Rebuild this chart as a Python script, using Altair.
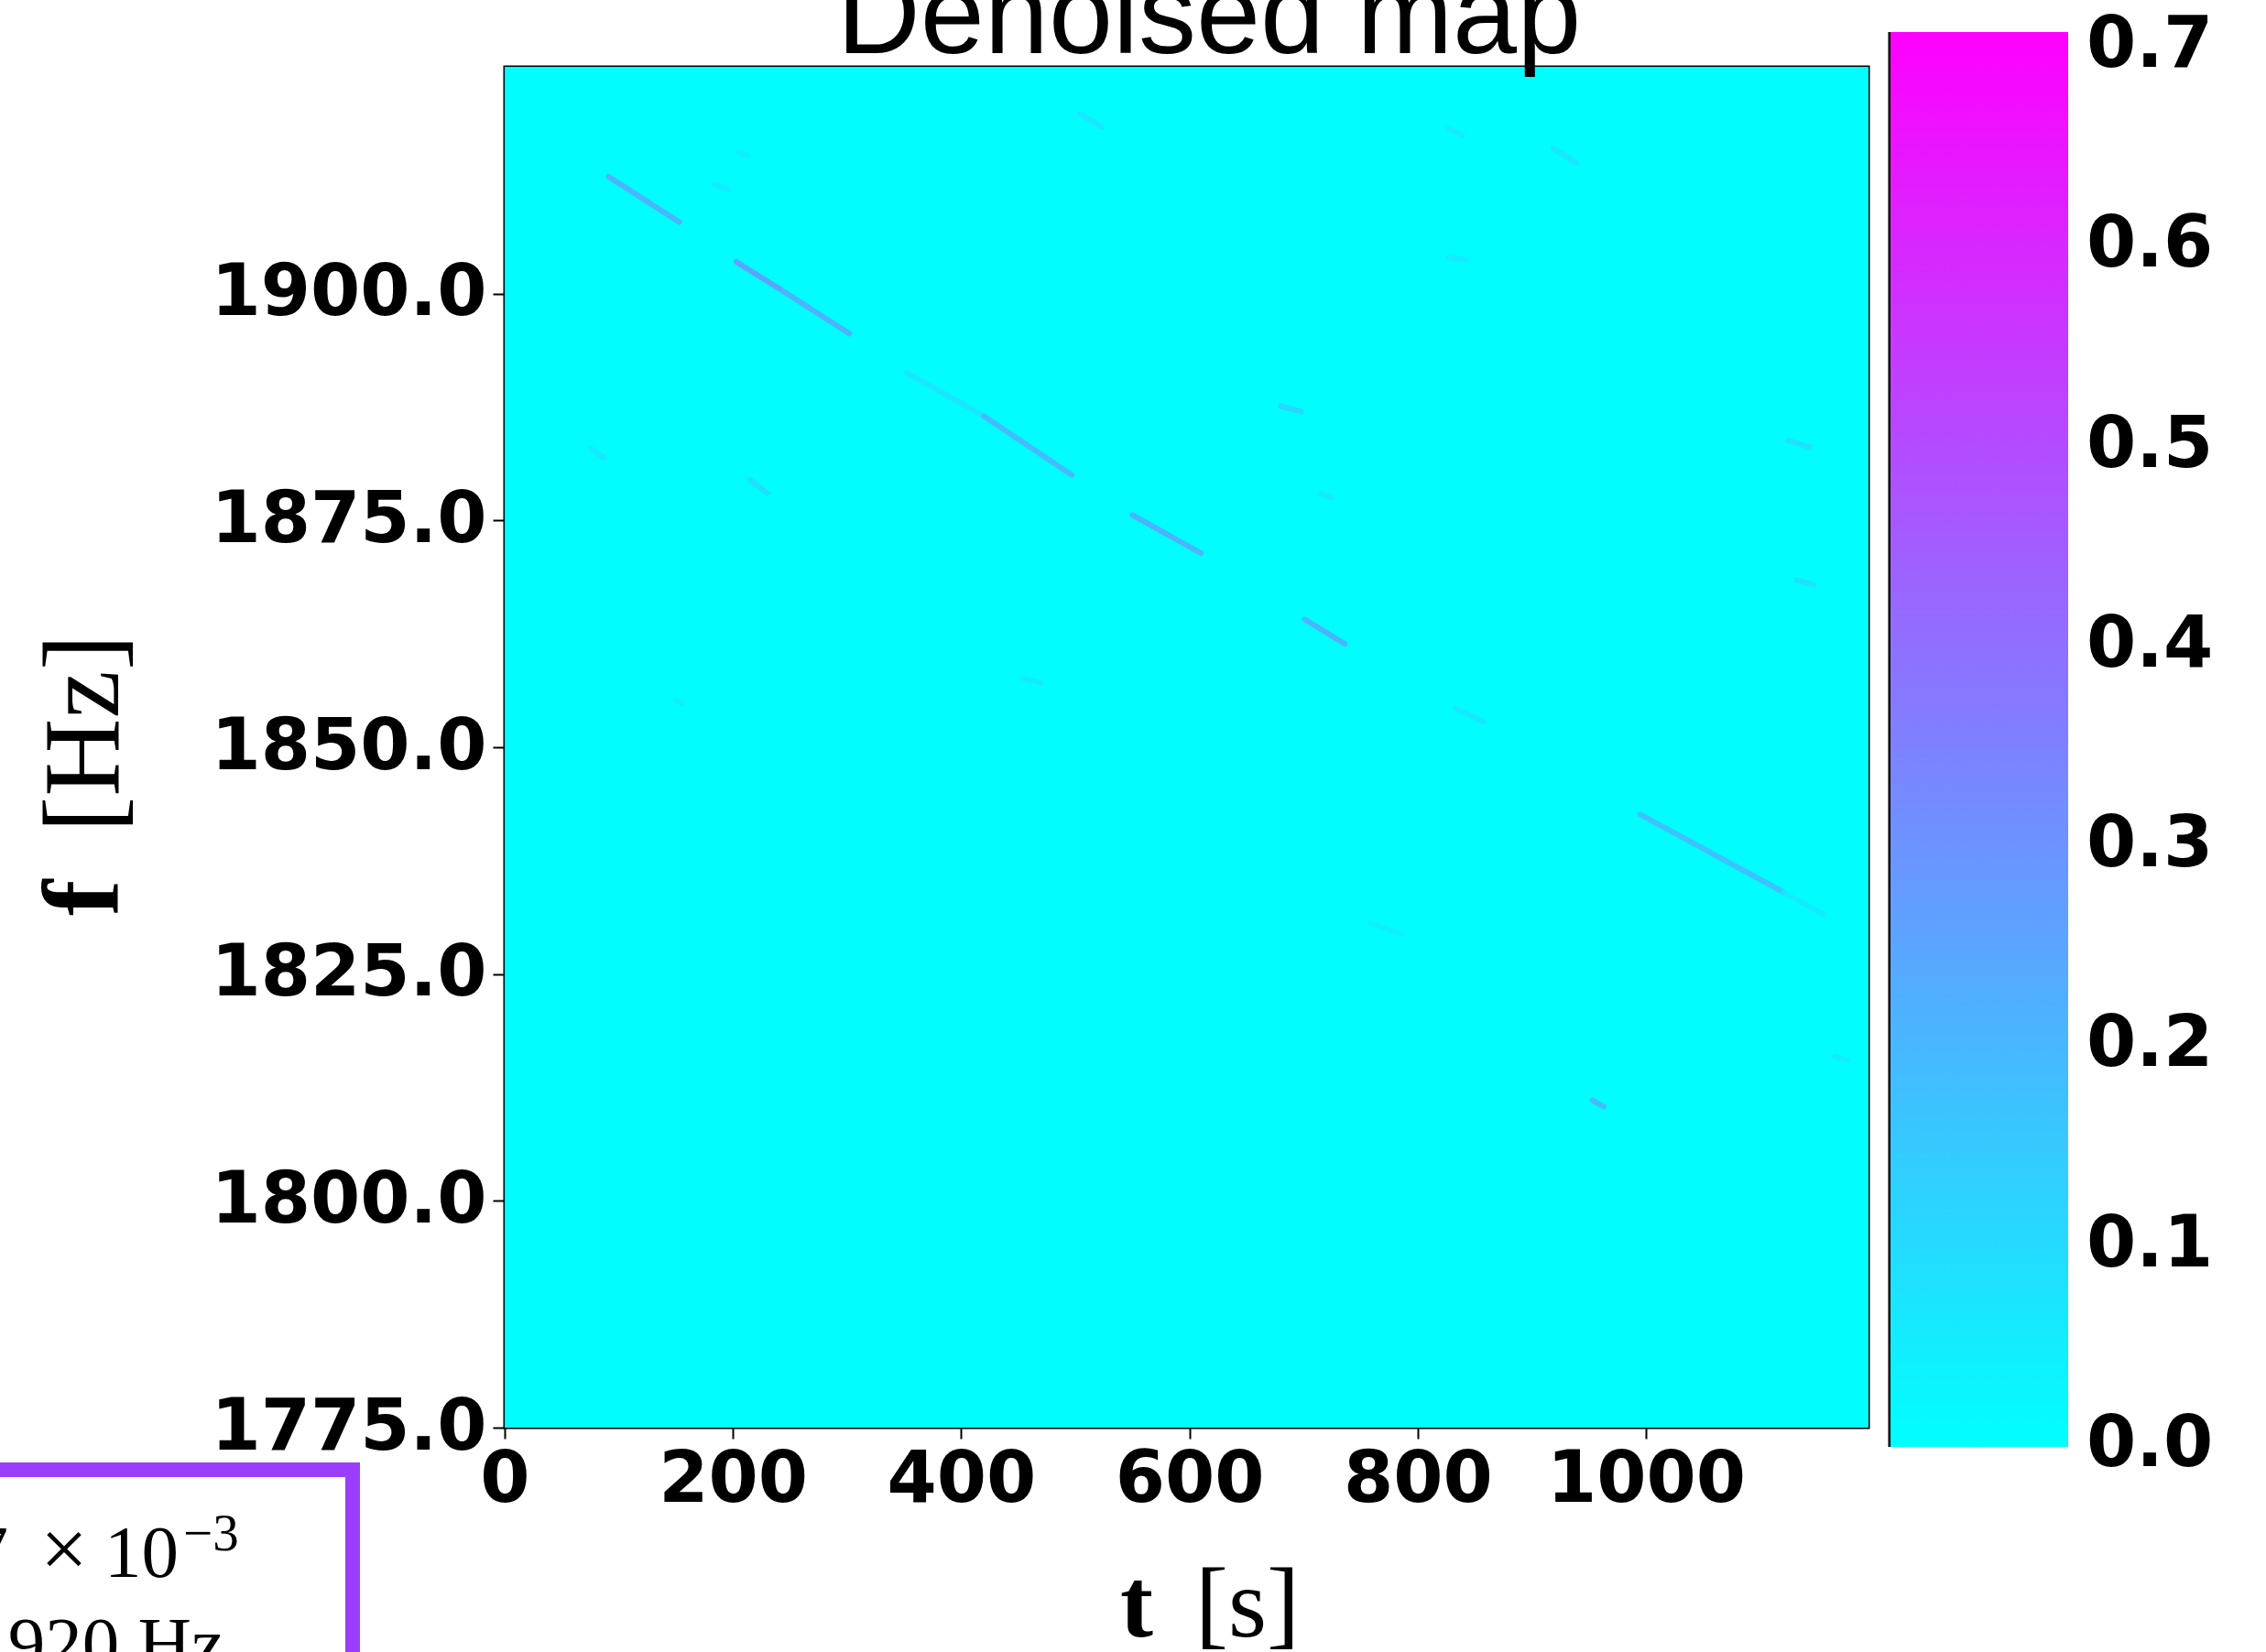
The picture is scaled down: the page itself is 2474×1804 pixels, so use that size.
import altair as alt
import pandas as pd

# ---------------- data ----------------
t_range = [0, 1195]            # seconds
f_range = [1775, 1925]         # Hz
cbar_domain = [-0.001, 0.707]

x_ticks = [0, 200, 400, 600, 800, 1000]
y_ticks = [1775, 1800, 1825, 1850, 1875, 1900]
cbar_ticks = [0.0, 0.1, 0.2, 0.3, 0.4, 0.5, 0.6, 0.7]

background_level = 0.004

# streak segments: start (t, f) -> end (t, f), intensity
track_t0 = [91, 203, 240, 352, 420, 550, 701, 995, 1121, 953,
            504, 184, 205, 76, 215, 150, 454, 827, 919, 827,
            680, 1125, 715, 1132, 833, 758, 1166]
track_f0 = [1912.9, 1903.5, 1900.6, 1891.3, 1886.5, 1875.6, 1864.1, 1842.6, 1834.0, 1811.1,
            1919.8, 1912.0, 1915.6, 1882.9, 1879.5, 1855.2, 1857.6, 1918.2, 1916.0, 1904.0,
            1887.6, 1883.8, 1878.0, 1868.4, 1854.3, 1830.6, 1815.9]
track_t1 = [153, 240, 302, 420, 497, 610, 736, 1121, 1155, 963,
            523, 196, 212, 87, 230, 156, 470, 839, 939, 842,
            698, 1143, 725, 1147, 858, 786, 1176]
track_f1 = [1907.9, 1900.6, 1895.6, 1886.5, 1880.0, 1871.4, 1861.4, 1834.0, 1831.6, 1810.4,
            1918.4, 1911.5, 1915.2, 1881.9, 1878.0, 1854.8, 1857.1, 1917.5, 1914.4, 1903.7,
            1887.0, 1883.1, 1877.5, 1867.9, 1852.8, 1829.4, 1815.5]
track_v = [0.24, 0.30, 0.25, 0.08, 0.22, 0.25, 0.25, 0.20, 0.06, 0.22,
           0.08, 0.06, 0.05, 0.07, 0.10, 0.05, 0.06, 0.06, 0.08, 0.06,
           0.13, 0.10, 0.06, 0.10, 0.07, 0.05, 0.06]

bg_df = pd.DataFrame({"t0": [t_range[0]], "t1": [t_range[1]],
                      "f0": [f_range[0]], "f1": [f_range[1]],
                      "v": [background_level]})
tr_df = pd.DataFrame({"t0": track_t0, "f0": track_f0,
                      "t1": track_t1, "f1": track_f1, "v": track_v})

# ---------------- scales / guides ----------------
tick_font = "DejaVu Sans"
xs = alt.Scale(domain=t_range, nice=False, zero=False)
ys = alt.Scale(domain=f_range, nice=False, zero=False)
cs = alt.Scale(domain=cbar_domain, range=["#00ffff", "#ff00ff"], interpolate="rgb")

x_axis = alt.Axis(values=x_ticks, format="d", title=None, grid=False, domain=False,
                  labelFont=tick_font, labelFontSize=78, labelFontWeight="bold",
                  labelColor="black", labelFlush=False, labelPadding=6, labelLimit=500,
                  labelOverlap=False,
                  tickSize=12, tickWidth=2, tickColor="black")
y_axis = alt.Axis(values=y_ticks, format=".1f", title=None, grid=False, domain=False,
                  labelFont=tick_font, labelFontSize=78, labelFontWeight="bold",
                  labelColor="black", labelFlush=False, labelPadding=7, labelLimit=500,
                  labelOverlap=False,
                  tickSize=13, tickWidth=2, tickColor="black")
legend = alt.Legend(title=None, type="gradient", orient="none", legendX=1513, legendY=-38,
                    direction="vertical", gradientLength=1545, gradientThickness=194,
                    gradientStrokeWidth=0, values=cbar_ticks, format=".1f",
                    labelFont=tick_font, labelFontSize=78, labelFontWeight="bold",
                    labelColor="black", labelOffset=20, labelLimit=400, padding=0,
                    labelOverlap=False)

bg = alt.Chart(bg_df).mark_rect().encode(
    x=alt.X("t0:Q", scale=xs, axis=x_axis),
    x2="t1:Q",
    y=alt.Y("f0:Q", scale=ys, axis=y_axis),
    y2="f1:Q",
    color=alt.Color("v:Q", scale=cs, legend=legend),
)

streaks = alt.Chart(tr_df).mark_rule(strokeWidth=6, strokeCap="round", opacity=0.85).encode(
    x="t0:Q", x2="t1:Q", y="f0:Q", y2="f1:Q",
    color=alt.Color("v:Q", legend=None),
)

one = alt.Data(values=[{"k": 1}])


def txt(text, x, y, size, font, weight="normal", align="left", angle=0):
    return alt.Chart(one).mark_text(
        text=text, font=font, fontSize=size, fontWeight=weight, align=align,
        baseline="alphabetic", angle=angle, color="black",
    ).encode(x=alt.value(x), y=alt.value(y))


title = txt("Denoised map", 769, -15, 126, "Liberation Sans", align="center")
xt1 = txt("t", 672, 1714, 108, "Liberation Serif", weight="bold")
xt2 = txt("[s]", 754, 1714, 108, "Liberation Serif")
yt1 = txt("f", -422, 927, 118, "Liberation Serif", weight="bold", angle=270)
yt2 = txt("[Hz]", -422, 836, 118, "Liberation Serif", angle=270)

cbar_edge = alt.Chart(one).mark_rule(color="black", strokeWidth=3).encode(
    x=alt.value(1512), y=alt.value(-38), y2=alt.value(1507))

box = alt.Chart(one).mark_rect(fill="white", stroke="#9b3dff", strokeWidth=16).encode(
    x=alt.value(-700), x2=alt.value(-166), y=alt.value(1532), y2=alt.value(1900))
b1 = txt("7", -542, 1649, 81, "Liberation Serif", align="right")
b2 = txt("\u00d7", -481, 1649, 92, "Liberation Serif", align="center")
b3 = txt("10", -437, 1649, 81, "Liberation Serif")
b4 = txt("\u22123", -351, 1620, 57, "Liberation Serif")
b5 = txt("920 Hz", -306, 1749, 81, "Liberation Serif", align="right")

chart = alt.layer(
    bg, streaks, title, xt1, xt2, yt1, yt2, cbar_edge, box, b1, b2, b3, b4, b5
).resolve_legend(
    color="independent"
).properties(
    width=1489, height=1486,
    autosize=alt.AutoSizeParams(type="none"),
    padding={"left": 551, "top": 73, "right": 434, "bottom": 245},
    background="white",
).configure_view(stroke="black", strokeWidth=3)

chart.save("out.html", embed_options={"renderer": "svg", "actions": False})
